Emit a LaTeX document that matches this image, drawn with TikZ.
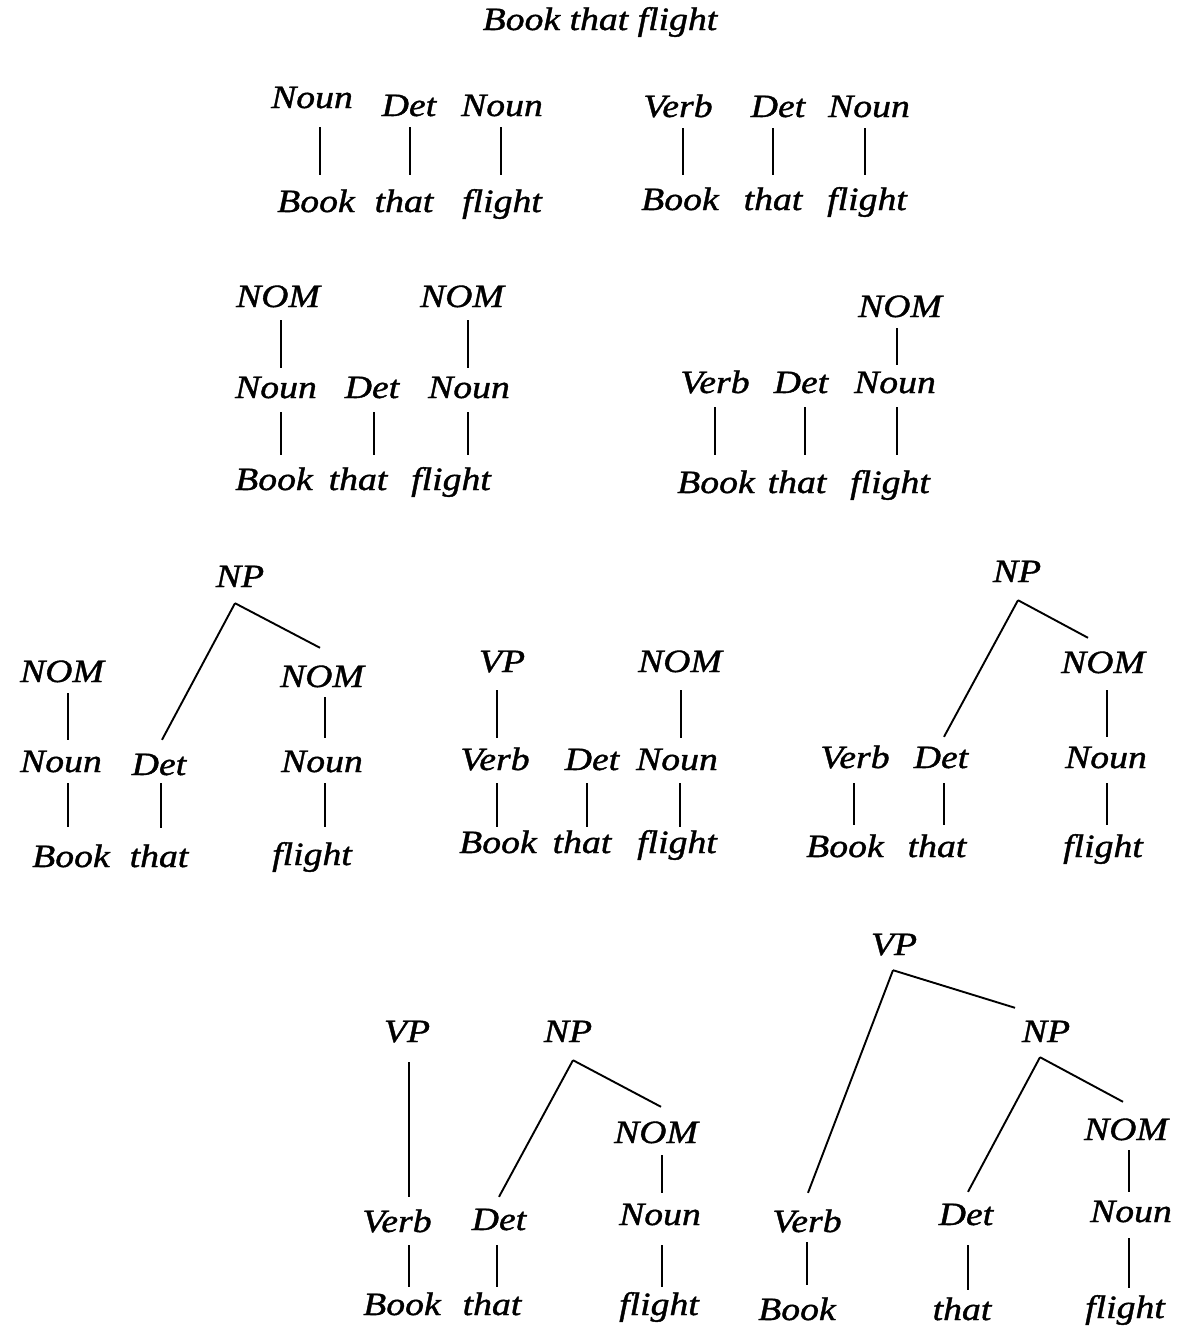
\documentclass[tikz,border=0pt]{standalone}
\usepackage{fontspec}
\setmainfont{Liberation Serif}[FakeStretch=1.16,FakeBold=1.2]
\usetikzlibrary{calc}
\tikzset{
  lab/.style={font=\fontsize{32.5}{36}\selectfont\itshape, inner sep=0pt, text height=21pt, text depth=0pt, anchor=base},
  edge/.style={line width=1.9pt}
}
% \vl[dx]{parent}{child}{start offset}{end offset}
\newcommand\vl[5][0]{\draw[edge] ($(#2.south)+(#1,#4)$) -- ($(#2.south|-#3.north)+(#1,#5)$);}
\newcommand\sline[6]{\draw[edge] ($(#1.south)+(#2,#3)$) -- ($(#4.north)+(#5,#6)$);}
\begin{document}
\begin{tikzpicture}[x=1pt,y=-1pt]
\useasboundingbox (0,0) rectangle (1196,1342);
\fill[white] (0,0) rectangle (1196,1342);

% title
\node[lab] (title) at (600,30) {Book that flight};

% ---------- Row 1 left
\node[lab] (a1) at (312,108) {Noun};
\node[lab] (a2) at (409,116) {Det};
\node[lab] (a3) at (502,116) {Noun};
\node[lab] (a4) at (316,212) {Book};
\node[lab] (a5) at (404,212) {that};
\node[lab] (a6) at (502,212) {flight};
\vl[8]{a1}{a4}{19}{-16} \vl[1]{a2}{a5}{11}{-16} \vl[-1]{a3}{a6}{11}{-16}

% ---------- Row 1 right
\node[lab] (b1) at (678,117) {Verb};
\node[lab] (b2) at (778,117) {Det};
\node[lab] (b3) at (869,117) {Noun};
\node[lab] (b4) at (680,210) {Book};
\node[lab] (b5) at (773,210) {that};
\node[lab] (b6) at (867,210) {flight};
\vl[5]{b1}{b4}{11}{-14} \vl[-5]{b2}{b5}{11}{-14} \vl[-4]{b3}{b6}{11}{-14}

% ---------- Row 2 left
\node[lab] (c0) at (278,307) {NOM};
\node[lab] (c00) at (462,307) {NOM};
\node[lab] (c1) at (276,398) {Noun};
\node[lab] (c2) at (372,398) {Det};
\node[lab] (c3) at (469,398) {Noun};
\node[lab] (c4) at (274,490) {Book};
\node[lab] (c5) at (358,490) {that};
\node[lab] (c6) at (451,490) {flight};
\vl[3]{c0}{c1}{13}{-9} \vl[6]{c00}{c3}{13}{-9}
\vl[5]{c1}{c4}{14}{-14} \vl[2]{c2}{c5}{14}{-14} \vl[-1]{c3}{c6}{14}{-14}

% ---------- Row 2 right
\node[lab] (d00) at (900,317) {NOM};
\node[lab] (d1) at (715,393) {Verb};
\node[lab] (d2) at (801,393) {Det};
\node[lab] (d3) at (895,393) {Noun};
\node[lab] (d4) at (716,493) {Book};
\node[lab] (d5) at (797,493) {that};
\node[lab] (d6) at (890,493) {flight};
\vl[-3]{d00}{d3}{11}{-7}
\vl[0]{d1}{d4}{14}{-17} \vl[4]{d2}{d5}{14}{-17} \vl[2]{d3}{d6}{14}{-17}

% ---------- Row 3 left
\node[lab] (e9) at (240,587) {NP};
\node[lab] (e0) at (62,682) {NOM};
\node[lab] (e00) at (322,687) {NOM};
\node[lab] (e1) at (61,772) {Noun};
\node[lab] (e2) at (159,775) {Det};
\node[lab] (e3) at (322,772) {Noun};
\node[lab] (e4) at (71,867) {Book};
\node[lab] (e5) at (159,867) {that};
\node[lab] (e6) at (312,865) {flight};
\sline{e9}{-5}{16}{e2}{3}{-14}
\sline{e9}{-5}{16}{e00}{-2}{-18}
\vl[6]{e0}{e1}{11}{-11} \vl[3]{e00}{e3}{10}{-13}
\vl[7]{e1}{e4}{11}{-19} \vl[2]{e2}{e5}{8}{-18} \vl[3]{e3}{e6}{11}{-17}

% ---------- Row 3 middle
\node[lab] (f0) at (502,672) {VP};
\node[lab] (f00) at (680,672) {NOM};
\node[lab] (f1) at (495,770) {Verb};
\node[lab] (f2) at (592,770) {Det};
\node[lab] (f3) at (677,770) {Noun};
\node[lab] (f4) at (498,853) {Book};
\node[lab] (f5) at (582,853) {that};
\node[lab] (f6) at (677,853) {flight};
\vl[-5]{f0}{f1}{18}{-11} \vl[1]{f00}{f3}{18}{-11}
\vl[2]{f1}{f4}{13}{-5} \vl[-5]{f2}{f5}{13}{-5} \vl[3]{f3}{f6}{13}{-5}

% ---------- Row 3 right
\node[lab] (g9) at (1017,582) {NP};
\node[lab] (g00) at (1103,673) {NOM};
\node[lab] (g1) at (855,768) {Verb};
\node[lab] (g2) at (941,768) {Det};
\node[lab] (g3) at (1106,768) {Noun};
\node[lab] (g4) at (845,857) {Book};
\node[lab] (g5) at (937,857) {that};
\node[lab] (g6) at (1103,857) {flight};
\sline{g9}{1}{18}{g2}{3}{-10}
\sline{g9}{1}{18}{g00}{-15}{-14}
\vl[4]{g00}{g3}{17}{-10}
\vl[-1]{g1}{g4}{15}{-11} \vl[3]{g2}{g5}{15}{-11} \vl[1]{g3}{g6}{15}{-11}

% ---------- Row 4 left
\node[lab] (h0) at (407,1042) {VP};
\node[lab] (h9) at (568,1042) {NP};
\node[lab] (h00) at (656,1143) {NOM};
\node[lab] (h1) at (397,1232) {Verb};
\node[lab] (h2) at (499,1230) {Det};
\node[lab] (h3) at (660,1225) {Noun};
\node[lab] (h4) at (402,1315) {Book};
\node[lab] (h5) at (492,1315) {that};
\node[lab] (h6) at (659,1315) {flight};
\vl[2]{h0}{h1}{20}{-14}
\sline{h9}{5}{18}{h2}{0}{-12}
\sline{h9}{5}{18}{h00}{5}{-15}
\vl[6]{h00}{h3}{12}{-11}
\vl[12]{h1}{h4}{13}{-7} \vl[-2]{h2}{h5}{15}{-7} \vl[2]{h3}{h6}{20}{-7}

% ---------- Row 4 right
\node[lab] (k8) at (894,955) {VP};
\node[lab] (k9) at (1046,1042) {NP};
\node[lab] (k00) at (1126,1140) {NOM};
\node[lab] (k1) at (807,1232) {Verb};
\node[lab] (k2) at (966,1225) {Det};
\node[lab] (k3) at (1131,1222) {Noun};
\node[lab] (k4) at (797,1320) {Book};
\node[lab] (k5) at (962,1320) {that};
\node[lab] (k6) at (1125,1318) {flight};
\sline{k8}{-1}{15}{k1}{1}{-18}
\sline{k8}{-1}{15}{k9}{-31}{-13}
\sline{k9}{-6}{15}{k2}{2}{-12}
\sline{k9}{-6}{15}{k00}{-3}{-17}
\vl[3]{k00}{k3}{10}{-9}
\vl[0]{k1}{k4}{10}{-14} \vl[2]{k2}{k5}{20}{-9} \vl[-2]{k3}{k6}{16}{-9}
\end{tikzpicture}
\end{document}
